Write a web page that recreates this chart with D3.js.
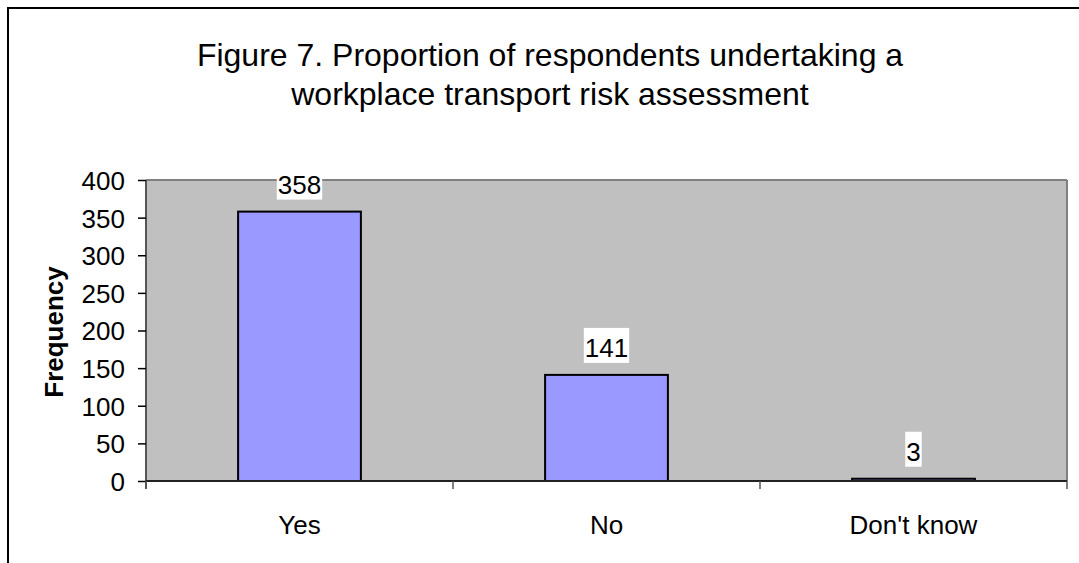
<!DOCTYPE html>
<html><head><meta charset="utf-8">
<script src="https://cdn.jsdelivr.net/npm/d3@7"></script>
<style>body{margin:0;background:#fff}svg{display:block;font-family:"Liberation Sans",Arial,sans-serif}</style>
</head><body>
<svg id="c" width="1079" height="563"></svg>
<script>
const categories = ["Yes", "No", "Don't know"];
const values = [358, 141, 3];
const yTicks = [0, 50, 100, 150, 200, 250, 300, 350, 400];
const titleLines = ["Figure 7. Proportion of respondents undertaking a", "workplace transport risk assessment"];
const yTitle = "Frequency";

const svg = d3.select("#c");
svg.append("rect").attr("x", 8).attr("y", 8).attr("width", 1100).attr("height", 600)
  .attr("fill", "none").attr("stroke", "#000").attr("stroke-width", 2);

const L = 146, R = 1067, T = 180, B = 481;
const x = d3.scaleBand().domain(categories).range([L, R]).paddingInner(0.6).paddingOuter(0.3);
const xb = d3.scaleBand().domain(categories).range([L, R]);
const y = d3.scaleLinear().domain([0, 400]).range([B, T]);

svg.append("rect").attr("x", L).attr("y", T).attr("width", R - L).attr("height", B - T).attr("fill", "#C0C0C0");
svg.append("line").attr("x1", L).attr("x2", R).attr("y1", T).attr("y2", T).attr("stroke", "#808080").attr("stroke-width", 2);
svg.append("line").attr("x1", R).attr("x2", R).attr("y1", T).attr("y2", B).attr("stroke", "#808080").attr("stroke-width", 2);

svg.selectAll("rect.bar").data(values).enter().append("rect").attr("class", "bar")
  .attr("x", (d, i) => x(categories[i])).attr("width", x.bandwidth())
  .attr("y", d => y(d)).attr("height", d => B - y(d))
  .attr("fill", "#9999FF").attr("stroke", "#000").attr("stroke-width", 2);

// y axis
const ya = svg.append("g").attr("transform", `translate(${L},0)`)
  .call(d3.axisLeft(y).tickValues(yTicks).tickSize(8).tickPadding(13));
ya.attr("font-size", null).attr("font-family", null);
ya.select(".domain").attr("stroke", "#555").attr("stroke-width", 2).attr("d", `M0,${T}V${B + 8}`);
ya.selectAll(".tick line").attr("stroke", "#000").attr("stroke-width", 1.5);
ya.selectAll(".tick text").attr("font-size", 26).attr("fill", "#000").attr("dy", "0.36em");

// x axis
svg.append("line").attr("x1", L).attr("x2", R).attr("y1", B).attr("y2", B).attr("stroke", "#222").attr("stroke-width", 2);
const bounds = [L, ...categories.map(c => xb(c) + xb.bandwidth())];
svg.selectAll("line.xt").data(bounds).enter().append("line").attr("class", "xt")
  .attr("x1", d => d).attr("x2", d => d).attr("y1", B).attr("y2", B + 8).attr("stroke", "#555").attr("stroke-width", 1.5);
svg.selectAll("text.xl").data(categories).enter().append("text").attr("class", "xl")
  .attr("x", d => xb(d) + xb.bandwidth() / 2).attr("y", 534).attr("text-anchor", "middle")
  .attr("font-size", 26).text(d => d);

// value labels
const lg = svg.selectAll("g.vl").data(values).enter().append("g").attr("class", "vl");
lg.each(function (d, i) {
  const g = d3.select(this);
  const cx = x(categories[i]) + x.bandwidth() / 2;
  const base = y(d) - 18;
  const t = g.append("text").attr("x", cx).attr("y", base).attr("text-anchor", "middle").attr("font-size", 26).text(d);
  const bb = t.node().getBBox();
  g.insert("rect", "text").attr("x", bb.x - 1).attr("y", base - 29).attr("width", bb.width + 2).attr("height", 35).attr("fill", "#fff");
});

// title
svg.selectAll("text.title").data(titleLines).enter().append("text").attr("class", "title")
  .attr("x", 550).attr("y", (d, i) => 66 + i * 39).attr("text-anchor", "middle").attr("font-size", 32).text(d => d);

svg.append("text").attr("transform", "translate(63,332) rotate(-90)").attr("text-anchor", "middle")
  .attr("font-size", 26).attr("font-weight", "bold").text(yTitle);
</script>
</body></html>
